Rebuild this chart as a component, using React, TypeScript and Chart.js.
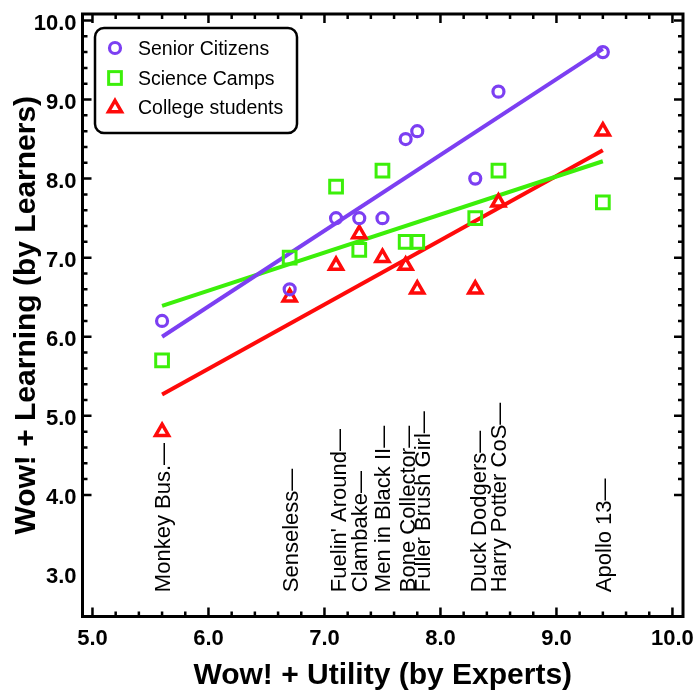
import React, { useEffect, useRef } from 'react';
import { Chart, registerables } from 'chart.js';

Chart.register(...registerables);

// ---- data ----
const movies = [
  'Monkey Bus.',
  'Senseless',
  "Fuelin' Around",
  'Clambake',
  'Men in Black II',
  'Bone Collector',
  'Fuller Brush Girl',
  'Duck Dodgers',
  'Harry Potter CoS',
  'Apollo 13',
];
const expertScores = [5.6, 6.7, 7.1, 7.3, 7.5, 7.7, 7.8, 8.3, 8.5, 9.4];
const seniorCitizens = [6.2, 6.6, 7.5, 7.5, 7.5, 8.5, 8.6, 8.0, 9.1, 9.6];
const scienceCamps = [5.7, 7.0, 7.9, 7.1, 8.1, 7.2, 7.2, 7.5, 8.1, 7.7];
const collegeStudents = [4.8, 6.5, 6.9, 7.3, 7.0, 6.9, 6.6, 6.6, 7.7, 8.6];

// fitted trend lines (endpoints)
const fitX = [5.6, 9.4];
const seniorFit = [6.0, 9.64];
const scienceFit = [6.39, 8.22];
const collegeFit = [5.27, 8.36];

const seriesNames = ['Senior Citizens', 'Science Camps', 'College students'];
const xTickValues = [5, 6, 7, 8, 9, 10];
const yTickValues = [3, 4, 5, 6, 7, 8, 9, 10];
const xRange = [4.914, 10.091];
const yRange = [2.462, 10.082];
const movieLabelY = 2.77;

const xTitle = 'Wow! + Utility (by Experts)';
const yTitle = 'Wow! + Learning (by Learners)';

// layout / style
const labelNudgePx = [0, 0, 2, 0, 0, 1, 5, 3, 0, 0];
const PURPLE = '#7c3ff2';
const GREEN = '#3cef0a';
const RED = '#ff0a0a';

const SANS = '"Liberation Sans", Arial, Helvetica, sans-serif';

const CIRCLE_R = 5.5;
const CIRCLE_W = 3.2;
const SQUARE_R = 9;
const SQUARE_W = 3;
const TRI_R = 7.5;
const TRI_W = 3.5;

function pts(xs: number[], ys: number[]) {
  return xs.map((x, i) => ({ x, y: ys[i] }));
}

function drawCircle(ctx: CanvasRenderingContext2D, x: number, y: number) {
  ctx.save();
  ctx.strokeStyle = PURPLE;
  ctx.lineWidth = CIRCLE_W;
  ctx.beginPath();
  ctx.arc(x, y, CIRCLE_R, 0, Math.PI * 2);
  ctx.stroke();
  ctx.restore();
}
function drawSquare(ctx: CanvasRenderingContext2D, x: number, y: number) {
  ctx.save();
  ctx.strokeStyle = GREEN;
  ctx.lineWidth = SQUARE_W;
  const s = SQUARE_R * Math.SQRT1_2;
  ctx.strokeRect(x - s, y - s, 2 * s, 2 * s);
  ctx.restore();
}
function drawTriangle(ctx: CanvasRenderingContext2D, x: number, y: number) {
  ctx.save();
  ctx.strokeStyle = RED;
  ctx.lineWidth = TRI_W;
  const r = TRI_R;
  ctx.beginPath();
  ctx.moveTo(x, y - r);
  ctx.lineTo(x + 0.866 * r, y + 0.5 * r);
  ctx.lineTo(x - 0.866 * r, y + 0.5 * r);
  ctx.closePath();
  ctx.stroke();
  ctx.restore();
}

const decorPlugin = {
  id: 'decor',
  afterDatasetsDraw(chart: any) {
    const ctx: CanvasRenderingContext2D = chart.ctx;
    const xs = chart.scales.x;
    const ys = chart.scales.y;
    const { left, right, top, bottom } = chart.chartArea;

    ctx.save();
    // movie labels (rotated)
    ctx.fillStyle = '#000';
    ctx.font = `22px ${SANS}`;
    ctx.textAlign = 'left';
    ctx.textBaseline = 'alphabetic';
    const baseY = ys.getPixelForValue(movieLabelY);
    movies.forEach((m, i) => {
      const px = xs.getPixelForValue(expertScores[i]);
      ctx.save();
      ctx.translate(px + 8 + labelNudgePx[i], baseY);
      ctx.rotate(-Math.PI / 2);
      ctx.fillText(m + '\u2014', 0, 0);
      ctx.restore();
    });

    // frame
    ctx.strokeStyle = '#000';
    ctx.lineWidth = 3;
    ctx.strokeRect(left, top, right - left, bottom - top);

    // ticks
    ctx.lineWidth = 2.5;
    ctx.beginPath();
    for (let k = 0; k <= 60; k++) {
      const v = 4 + k * 0.2;
      const major = k % 5 === 0;
      const len = major ? 9 : 5;
      if (v > xRange[0] && v < xRange[1]) {
        const px = xs.getPixelForValue(v);
        ctx.moveTo(px, bottom);
        ctx.lineTo(px, bottom - len);
        ctx.moveTo(px, top);
        ctx.lineTo(px, top + len);
      }
      if (v > yRange[0] && v < yRange[1]) {
        const py = ys.getPixelForValue(v);
        ctx.moveTo(left, py);
        ctx.lineTo(left + len, py);
        ctx.moveTo(right, py);
        ctx.lineTo(right - len, py);
      }
    }
    ctx.stroke();

    // tick labels
    ctx.font = `bold 22px ${SANS}`;
    ctx.textAlign = 'center';
    ctx.textBaseline = 'alphabetic';
    xTickValues.forEach((v) => {
      ctx.fillText(v.toFixed(1), xs.getPixelForValue(v), bottom + 28);
    });
    ctx.textAlign = 'right';
    yTickValues.forEach((v) => {
      ctx.fillText(v.toFixed(1), left - 6, ys.getPixelForValue(v) + 9.5);
    });

    // axis titles
    ctx.font = `bold 30px ${SANS}`;
    ctx.textAlign = 'center';
    ctx.fillText(xTitle, (left + right) / 2, 684);
    ctx.save();
    ctx.translate(35, (top + bottom) / 2);
    ctx.rotate(-Math.PI / 2);
    ctx.fillText(yTitle, 0, 0);
    ctx.restore();

    // legend
    const lx = 95, ly = 28, lw = 202, lh = 105, rad = 9;
    ctx.beginPath();
    ctx.moveTo(lx + rad, ly);
    ctx.arcTo(lx + lw, ly, lx + lw, ly + lh, rad);
    ctx.arcTo(lx + lw, ly + lh, lx, ly + lh, rad);
    ctx.arcTo(lx, ly + lh, lx, ly, rad);
    ctx.arcTo(lx, ly, lx + lw, ly, rad);
    ctx.closePath();
    ctx.fillStyle = '#fff';
    ctx.fill();
    ctx.lineWidth = 2.5;
    ctx.strokeStyle = '#000';
    ctx.stroke();

    const rowsY = [48, 78, 107];
    drawCircle(ctx, 115, rowsY[0]);
    drawSquare(ctx, 115, rowsY[1]);
    drawTriangle(ctx, 115, rowsY[2] + 1);
    ctx.fillStyle = '#000';
    ctx.font = `19.5px ${SANS}`;
    ctx.textAlign = 'left';
    ctx.textBaseline = 'alphabetic';
    seriesNames.forEach((n, i) => {
      ctx.fillText(n, 138, rowsY[i] + 7);
    });
    ctx.restore();
  },
};

export default function App() {
  const ref = useRef<HTMLCanvasElement>(null);
  useEffect(() => {
    const canvas = ref.current;
    if (!canvas) return;
    const chart = new Chart(canvas, {
      type: 'scatter',
      data: {
        datasets: [
          {
            label: seriesNames[0],
            data: pts(expertScores, seniorCitizens),
            pointStyle: 'circle',
            pointRadius: CIRCLE_R,
            pointBorderWidth: CIRCLE_W,
            borderColor: PURPLE,
            backgroundColor: 'rgba(0,0,0,0)',
            showLine: false,
          },
          {
            label: seriesNames[1],
            data: pts(expertScores, scienceCamps),
            pointStyle: 'rect',
            pointRadius: SQUARE_R,
            pointBorderWidth: SQUARE_W,
            borderColor: GREEN,
            backgroundColor: 'rgba(0,0,0,0)',
            showLine: false,
          },
          {
            label: seriesNames[2],
            data: pts(expertScores, collegeStudents),
            pointStyle: 'triangle',
            pointRadius: TRI_R,
            pointBorderWidth: TRI_W,
            borderColor: RED,
            backgroundColor: 'rgba(0,0,0,0)',
            showLine: false,
          },
          {
            label: seriesNames[0] + ' fit',
            data: pts(fitX, seniorFit),
            showLine: true,
            borderColor: PURPLE,
            borderWidth: 4,
            pointRadius: 0,
          },
          {
            label: seriesNames[1] + ' fit',
            data: pts(fitX, scienceFit),
            showLine: true,
            borderColor: GREEN,
            borderWidth: 4,
            pointRadius: 0,
          },
          {
            label: seriesNames[2] + ' fit',
            data: pts(fitX, collegeFit),
            showLine: true,
            borderColor: RED,
            borderWidth: 4,
            pointRadius: 0,
          },
        ],
      },
      options: {
        animation: false,
        responsive: false,
        devicePixelRatio: 1,
        events: [],
        layout: { padding: { left: 82.5, top: 14, right: 13, bottom: 74.5 } },
        scales: {
          x: { type: 'linear', min: xRange[0], max: xRange[1], display: false },
          y: { type: 'linear', min: yRange[0], max: yRange[1], display: false },
        },
        plugins: {
          legend: { display: false },
          tooltip: { enabled: false },
        },
      },
      plugins: [decorPlugin],
    } as any);
    return () => chart.destroy();
  }, []);
  return (
    <div
      style={{
        position: 'fixed',
        left: 0,
        top: 0,
        width: 696,
        height: 691,
        background: '#fff',
      }}
    >
      <canvas ref={ref} width={696} height={691} style={{ display: 'block' }} />
    </div>
  );
}
